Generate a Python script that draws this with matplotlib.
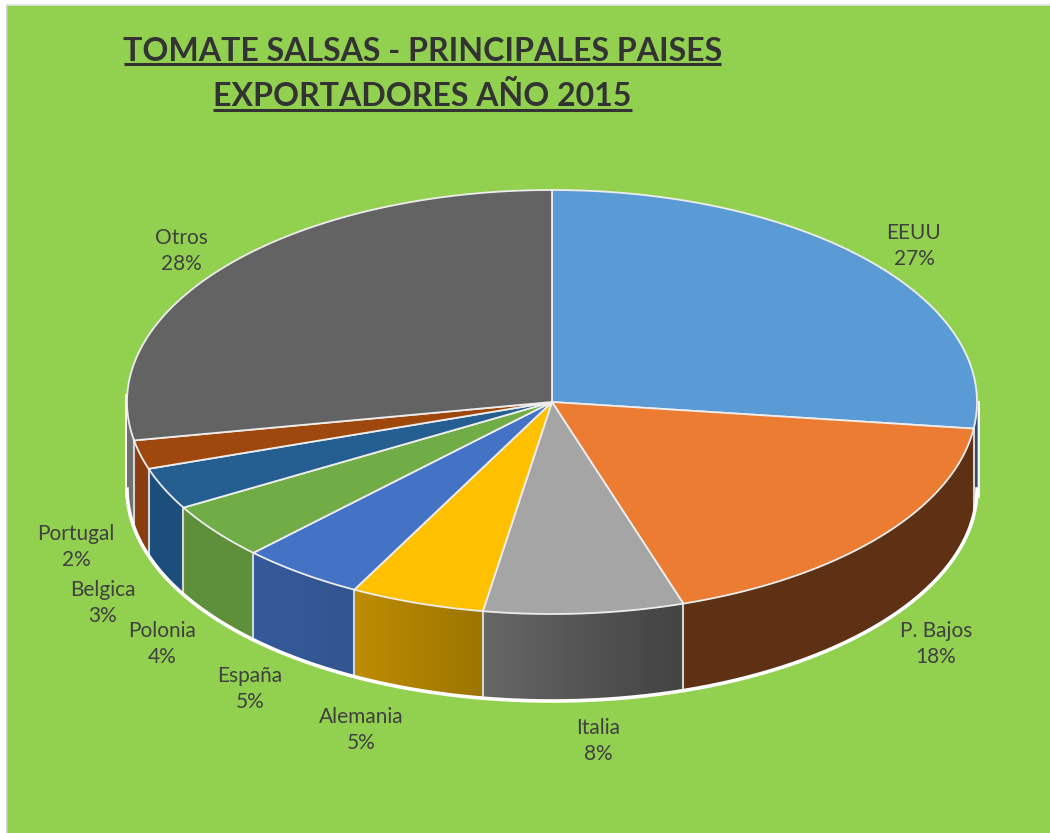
import numpy as np
import matplotlib
matplotlib.use('Agg')
import matplotlib.pyplot as plt
from matplotlib.colors import to_rgb

countries = ['EEUU', 'P. Bajos', 'Italia', 'Alemania', 'España', 'Polonia', 'Belgica', 'Portugal', 'Otros']
shares = [27.0, 18.0, 7.6, 5.1, 4.7, 4.3, 3.2, 2.2, 27.9]

top_colors = ['#5B9BD5', '#EB7C31', '#A5A5A5', '#FFC000', '#4472C4', '#70AD47', '#255E91', '#9E480E', '#636363']
# wall colour at the start and at the end of each slice (by angle, so right to left)
wall_start = ['#2F4A70', '#5E3014', '#424242', '#9C7400', '#325591', '#5E8F3A', '#1C4E7B', '#8A3D0E', '#707070']
wall_end = ['#2F4A70', '#5E3014', '#666666', '#BD8C00', '#35589A', '#5E8F3A', '#1C4E7B', '#8A3D0E', '#707070']

CX, CY = 552, 402
RX, RY = 425, 212
DEPTH = 87
BG = '#92D14F'
TEXT = '#404040'

label_pos = [(914, 246), (936, 644), (598, 741), (361, 730), (250, 689),
             (162, 644), (103, 603), (76, 547), (181, 251)]


def rim(t_deg, drop=0):
    t = np.radians(t_deg)
    return CX + RX * np.sin(t), CY - RY * np.cos(t) + drop


fig = plt.figure(figsize=(10.5, 8.33), dpi=100, facecolor='white')
ax = fig.add_axes([0, 0, 1, 1])
ax.set_xlim(0, 1050)
ax.set_ylim(833, 0)
ax.axis('off')
plt.rcParams['font.family'] = ['Lato', 'DejaVu Sans']

# background panel
ax.fill([7, 1050, 1050, 7], [5, 5, 833, 833], color=BG, lw=0, zorder=0)
ax.plot([7, 7], [5, 833], color='#C8C8C8', lw=1.2, zorder=1)
ax.plot([7, 1050], [5, 5], color='#E4E4E4', lw=1.2, zorder=1)

edges = np.cumsum([0] + shares) / sum(shares) * 360

# side walls, only the front half of the rim shows
for i in range(len(shares)):
    a0, a1 = max(edges[i], 90), min(edges[i + 1], 270)
    if a1 <= a0:
        continue
    if wall_start[i] == wall_end[i]:
        arc = np.linspace(a0, a1, 100)
        x, y = rim(arc)
        xb, yb = rim(arc[::-1], DEPTH)
        ax.fill(np.r_[x, xb], np.r_[y, yb], color=wall_start[i], lw=0.5, zorder=2)
    else:
        n = max(int((a1 - a0) / 0.4), 1)
        steps = np.linspace(a0, a1, n + 1)
        c0, c1 = np.array(to_rgb(wall_start[i])), np.array(to_rgb(wall_end[i]))
        for k in range(n):
            f = k / max(n - 1, 1)
            col = c0 * (1 - f) + c1 * f
            arc = np.linspace(steps[k], steps[k + 1], 3)
            x, y = rim(arc)
            xb, yb = rim(arc[::-1], DEPTH)
            ax.fill(np.r_[x, xb], np.r_[y, yb], color=col, lw=1.0, zorder=2)
    # divider at the slice boundary
    if 90 < edges[i + 1] < 270:
        x, y = rim(edges[i + 1])
        ax.plot([x, x], [y, y + DEPTH], color='#D4D4D4', lw=1.5, zorder=3)

# white rim under the walls and up both sides
arc = np.linspace(90, 270, 300)
x, y = rim(arc, DEPTH)
ax.plot(x, y, color='white', lw=2.6, zorder=3)
ax.plot([CX + RX + 1.5] * 2, [CY, CY + DEPTH + 8], color='white', lw=1.4, zorder=3)
ax.plot([CX - RX - 1.5] * 2, [CY - 7, CY + DEPTH + 8], color='white', lw=1.4, zorder=3)

# top face
for i in range(len(shares)):
    arc = np.linspace(edges[i], edges[i + 1], 120)
    x, y = rim(arc)
    ax.fill(np.r_[CX, x], np.r_[CY, y], facecolor=top_colors[i], edgecolor='#EDEDED', lw=1.3, zorder=4)

# data labels
for name, share, (lx, ly) in zip(countries, shares, label_pos):
    ax.text(lx, ly, f'{name}\n{round(share)}%', ha='center', va='center', fontsize=15,
            color=TEXT, linespacing=1.36, zorder=6)

# title with underline
for line, ty, ul, (ux0, ux1) in [('TOMATE SALSAS - PRINCIPALES PAISES', 51, 64, (124, 721)),
                                 ('EXPORTADORES AÑO 2015', 96, 110, (213, 632))]:
    ax.text((ux0 + ux1) / 2, ty, line, ha='center', va='center', fontsize=23.1,
            fontweight='bold', color='#333333', zorder=6)
    ax.plot([ux0, ux1], [ul, ul], color='#333333', lw=2.2, solid_capstyle='butt', zorder=6)

fig.savefig('out.png', dpi=100, facecolor=fig.get_facecolor())
plt.close(fig)
